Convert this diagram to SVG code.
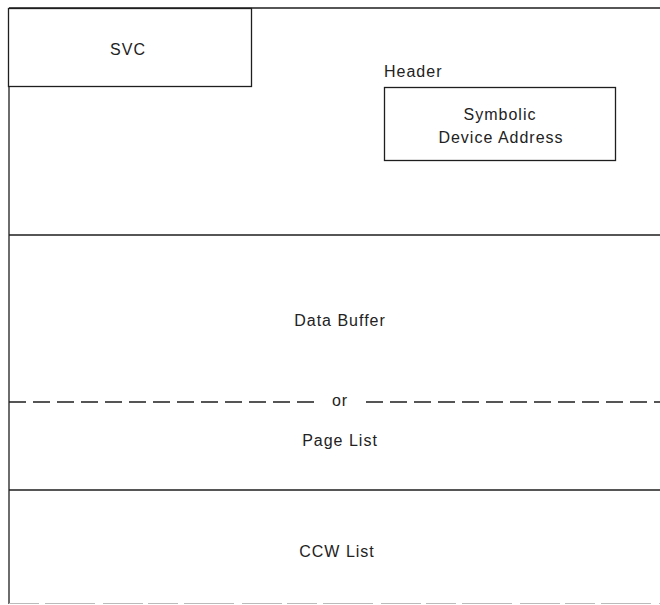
<svg xmlns="http://www.w3.org/2000/svg" width="660" height="605" viewBox="0 0 660 605">
<style>
.ln{stroke:#1e1e1e;stroke-width:1.3;fill:none}
.bx{stroke:#1e1e1e;stroke-width:1.3;fill:#fff}
.t{font-family:"Liberation Sans",Arial,sans-serif;font-size:16px;fill:#222;letter-spacing:1px}
.c{text-anchor:middle}
</style>
<rect width="660" height="605" fill="#fff"/>
<g id="connectors">
<path class="ln" d="M9 8 H660"/>
<path class="ln" d="M9 8 V604"/>
<path class="ln" d="M9 235 H660"/>
<path class="ln" d="M9 490 H660"/>
<path class="ln" d="M9 402 H314" stroke-dasharray="17 7"/>
<path class="ln" d="M366 402 H660" stroke-dasharray="17 7"/>
<path d="M9 603.5 H660" stroke="#bbb" stroke-width="1.2" stroke-dasharray="30 6 50 8 40 5"/>
</g>
<g id="svc">
<rect class="bx" x="8.5" y="8.5" width="243" height="78"/>
<text class="t c" x="128" y="55">SVC</text>
</g>
<g id="header">
<text class="t" x="384" y="77">Header</text>
</g>
<g id="symbolic">
<rect class="bx" x="384.5" y="87.5" width="231" height="73"/>
<text class="t c" x="500" y="120">Symbolic</text>
<text class="t c" x="501" y="143">Device Address</text>
</g>
<g id="data-buffer">
<text class="t c" x="340" y="326">Data Buffer</text>
</g>
<g id="or">
<text class="t c" x="340" y="406">or</text>
</g>
<g id="page-list">
<text class="t c" x="340" y="446">Page List</text>
</g>
<g id="ccw-list">
<text class="t c" x="337" y="557">CCW List</text>
</g>
</svg>
